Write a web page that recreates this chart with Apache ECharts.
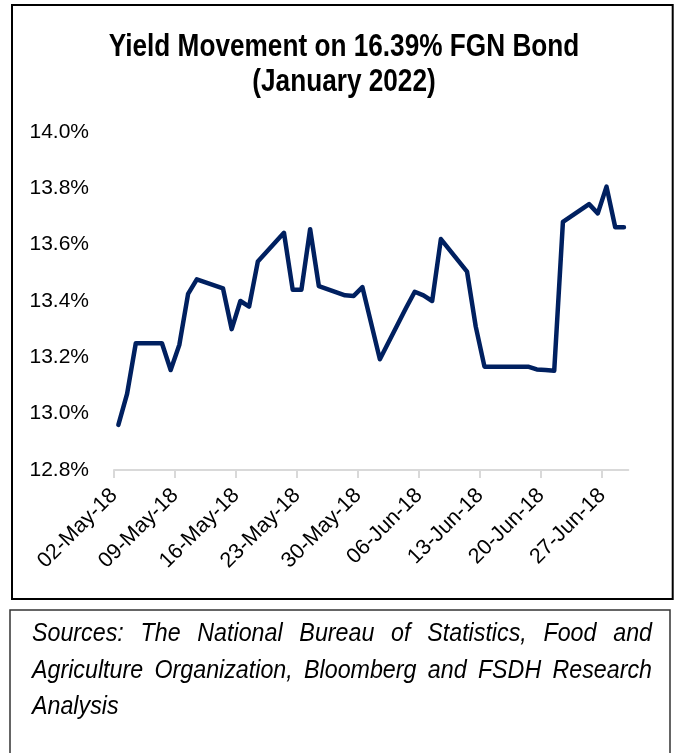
<!DOCTYPE html>
<html><head><meta charset="utf-8">
<script src="https://cdn.jsdelivr.net/npm/echarts@6/dist/echarts.min.js"></script>
<style>html,body{margin:0;padding:0;background:#fff}#c{width:676px;height:753px}</style>
</head><body><div id="c"></div>
<script>
const titleLines = ['Yield Movement on 16.39% FGN Bond', '(January 2022)'];
const dates = ['2018-05-02','2018-05-03','2018-05-04','2018-05-07','2018-05-08','2018-05-09','2018-05-10','2018-05-11',
  '2018-05-14','2018-05-15','2018-05-16','2018-05-17','2018-05-18','2018-05-21','2018-05-22','2018-05-23','2018-05-24','2018-05-25',
  '2018-05-28','2018-05-29','2018-05-30','2018-06-01','2018-06-04','2018-06-05','2018-06-06','2018-06-07','2018-06-08',
  '2018-06-11','2018-06-12','2018-06-13','2018-06-14','2018-06-18','2018-06-19','2018-06-20','2018-06-21','2018-06-22',
  '2018-06-25','2018-06-26','2018-06-27','2018-06-28','2018-06-29'];
const yields = [12.96,13.07,13.25,13.25,13.155,13.245,13.425,13.477,
  13.445,13.30,13.40,13.38,13.54,13.642,13.44,13.44,13.655,13.453,
  13.42,13.418,13.449,13.193,13.375,13.433,13.42,13.40,13.62,
  13.504,13.309,13.167,13.167,13.167,13.157,13.155,13.152,13.681,
  13.744,13.711,13.806,13.662,13.662];
const xTickLabels = ['02-May-18','09-May-18','16-May-18','23-May-18','30-May-18','06-Jun-18','13-Jun-18','20-Jun-18','27-Jun-18'];
const yMin = 12.8, yMax = 14.0, yStep = 0.2;
const sourceLines = ['Sources: The National Bureau of Statistics, Food and',
  'Agriculture Organization, Bloomberg and FSDH Research',
  'Analysis'];

const FF = "'Liberation Sans Narrow','Arial Narrow','Liberation Sans',Arial,sans-serif";
const SRC_SCALE = 0.93;
const DAY = 86400000;
const start = Date.UTC(2018,4,2);
function dayIndex(s){ const p = s.split('-').map(Number); return Math.round((Date.UTC(p[0],p[1]-1,p[2]) - start)/DAY); }
const lastDay = dayIndex(dates[dates.length-1]) + 1;
const seriesData = dates.map((d,i)=>[dayIndex(d)+0.5, yields[i]]);
const tickVals = xTickLabels.map((_,i)=>i*7);

// justified source note (slightly narrowed italic)
const ctx = document.createElement('canvas').getContext('2d');
const srcFont = `italic 25px ${FF}`;
ctx.font = srcFont;
const srcLeft = 32, srcRight = 652, srcBase0 = 647, srcLineGap = 36.5;
const srcEls = [];
function txt(x, y, text){
  return {type:'text', x, y, scaleX: SRC_SCALE, silent:true,
    style:{text, font: srcFont, fill:'#000', align:'left', verticalAlign:'bottom', textAlign:'left', textVerticalAlign:'bottom'}};
}
sourceLines.forEach((line, li) => {
  const y = srcBase0 + li*srcLineGap;
  if (li === sourceLines.length - 1) { srcEls.push(txt(srcLeft, y, line)); return; }
  const words = line.split(' ');
  const widths = words.map(w=>ctx.measureText(w).width*SRC_SCALE);
  const total = widths.reduce((a,b)=>a+b,0);
  const gap = (srcRight - srcLeft - total)/(words.length-1);
  let x = srcLeft;
  words.forEach((w,wi)=>{ srcEls.push(txt(x, y, w)); x += widths[wi] + gap; });
});

const chart = echarts.init(document.getElementById('c'), null, {renderer:'canvas'});
chart.setOption({
  animation: false,
  backgroundColor: '#fff',
  grid: {left: 114, right: 47.7, top: 132, bottom: 283, containLabel: false},
  xAxis: {
    type: 'value', min: 0, max: lastDay, interval: 7,
    axisLine: {show: true, lineStyle: {color: '#d9d9d9', width: 2}},
    axisTick: {show: true, length: 8, customValues: tickVals, lineStyle: {color: '#d9d9d9', width: 2}},
    splitLine: {show: false},
    axisLabel: {
      customValues: tickVals, rotate: 45, margin: 22, fontSize: 21.5, color: '#000', fontFamily: FF,
      formatter: v => xTickLabels[Math.round(v/7)] || ''
    }
  },
  yAxis: {
    type: 'value', min: yMin, max: yMax, interval: yStep,
    axisLine: {show: false}, axisTick: {show: false}, splitLine: {show: false},
    axisLabel: {margin: 25, fontSize: 21, color: '#000', fontFamily: FF, formatter: v => v.toFixed(1) + '%'}
  },
  series: [{
    type: 'line', data: seriesData, showSymbol: false, symbol: 'none',
    lineStyle: {color: '#002060', width: 4.5, cap: 'round', join: 'round'}
  }],
  graphic: [
    {type:'rect', shape:{x:12, y:5, width:660.7, height:594}, style:{fill:'none', stroke:'#000', lineWidth:2}, silent:true},
    {type:'rect', shape:{x:10, y:610, width:660, height:160}, style:{fill:'none', stroke:'#333', lineWidth:1.5}, silent:true},
    {type:'text', x:344, y:47, scaleX:0.845, silent:true, style:{text: titleLines[0], font:`bold 31px ${FF}`, fill:'#000', align:'center', verticalAlign:'middle', textAlign:'center', textVerticalAlign:'middle'}},
    {type:'text', x:344, y:82, scaleX:0.845, silent:true, style:{text: titleLines[1], font:`bold 31px ${FF}`, fill:'#000', align:'center', verticalAlign:'middle', textAlign:'center', textVerticalAlign:'middle'}}
  ].concat(srcEls)
});
</script></body></html>
